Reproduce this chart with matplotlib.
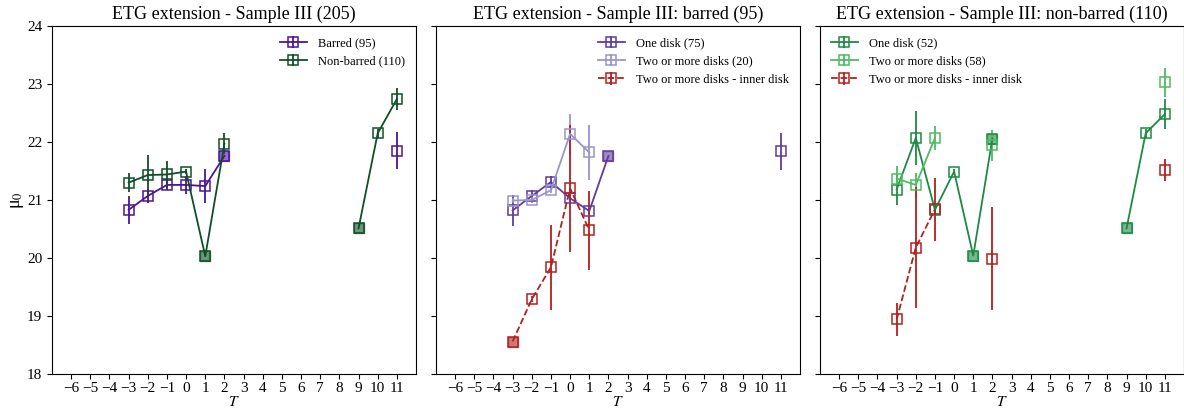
import numpy as np
import matplotlib
matplotlib.use("Agg")
import matplotlib.pyplot as plt

plt.rcParams['font.family'] = ['Liberation Serif', 'DejaVu Serif']
plt.rcParams['mathtext.fontset'] = 'stix'

nan = np.nan
T = np.arange(-3, 12)  # -3 .. 11

# Panel 1: Sample III (205)
barred_mu = [20.83, 21.07, 21.26, 21.26, 21.24, 21.76, nan, nan, nan, nan, nan, nan, nan, nan, 21.85]
barred_err = [0.24, 0.12, 0.08, 0.16, 0.29, 0.0, nan, nan, nan, nan, nan, nan, nan, nan, 0.32]
barred_single = [2]
nonbar_mu = [21.30, 21.43, 21.44, 21.49, 20.03, 21.97, nan, nan, nan, nan, nan, nan, 20.51, 22.15, 22.74]
nonbar_err = [0.17, 0.35, 0.24, 0.05, 0.0, 0.18, nan, nan, nan, nan, nan, nan, 0.0, 0.08, 0.19]
nonbar_single = [1, 9]

# Panel 2: barred (95)
b_one_mu = [20.82, 21.07, 21.31, 21.03, 20.81, 21.76, nan, nan, nan, nan, nan, nan, nan, nan, 21.84]
b_one_err = [0.26, 0.10, 0.10, 0.05, 0.05, 0.0, nan, nan, nan, nan, nan, nan, nan, nan, 0.32]
b_one_single = [2]
b_two_mu = [20.99, 21.00, 21.17, 22.14, 21.82, nan, nan, nan, nan, nan, nan, nan, nan, nan, nan]
b_two_err = [0.05, 0.05, 0.05, 0.35, 0.47, nan, nan, nan, nan, nan, nan, nan, nan, nan, nan]
b_two_single = []
b_inner_mu = [18.56, 19.29, 19.84, 21.20, 20.48, nan, nan, nan, nan, nan, nan, nan, nan, nan, nan]
b_inner_err = [0.0, 0.05, 0.73, 1.10, 0.68, nan, nan, nan, nan, nan, nan, nan, nan, nan, nan]
b_inner_single = [-3]

# Panel 3: non-barred (110)
n_one_mu = [21.18, 22.07, 20.83, 21.49, 20.04, 22.06, nan, nan, nan, nan, nan, nan, 20.51, 22.15, 22.48]
n_one_err = [0.27, 0.47, 0.10, 0.05, 0.0, 0.0, nan, nan, nan, nan, nan, nan, 0.0, 0.08, 0.26]
n_one_single = [1, 2, 9]
n_two_mu = [21.37, 21.26, 22.07, nan, nan, 21.94, nan, nan, nan, nan, nan, nan, nan, nan, 23.03]
n_two_err = [0.22, 0.20, 0.20, nan, nan, 0.27, nan, nan, nan, nan, nan, nan, nan, nan, 0.25]
n_two_single = []
n_inner_mu = [18.94, 20.18, 20.84, nan, nan, 19.99, nan, nan, nan, nan, nan, nan, nan, nan, 21.51]
n_inner_err = [0.28, 1.05, 0.54, nan, nan, 0.89, nan, nan, nan, nan, nan, nan, nan, nan, 0.19]
n_inner_single = []

titles = ['ETG extension - Sample III (205)',
          'ETG extension - Sample III: barred (95)',
          'ETG extension - Sample III: non-barred (110)']

panels = [
    [('Barred (95)', barred_mu, barred_err, barred_single, '#4b1596', '-'),
     ('Non-barred (110)', nonbar_mu, nonbar_err, nonbar_single, '#0f4f27', '-')],
    [('One disk (75)', b_one_mu, b_one_err, b_one_single, '#5e3c9e', '-'),
     ('Two or more disks (20)', b_two_mu, b_two_err, b_two_single, '#9a94cc', '-'),
     ('Two or more disks - inner disk', b_inner_mu, b_inner_err, b_inner_single, '#b2201f', '--')],
    [('One disk (52)', n_one_mu, n_one_err, n_one_single, '#1c8a43', '-'),
     ('Two or more disks (58)', n_two_mu, n_two_err, n_two_single, '#4fbb63', '-'),
     ('Two or more disks - inner disk', n_inner_mu, n_inner_err, n_inner_single, '#b2201f', '--')],
]
legend_locs = ['upper right', 'upper right', 'upper left']

fig = plt.figure(figsize=(11.84, 4.16), dpi=100)
W, H = 1184, 416
lefts = [52, 436, 820]
axw = 364
bottom = 1 - 374 / H
top = 1 - 26 / H
axes = []
for i, l in enumerate(lefts):
    ax = fig.add_axes([l / W, bottom, axw / W, top - bottom], sharey=axes[0] if axes else None)
    axes.append(ax)

for i, ax in enumerate(axes):
    for (lab, mu, err, single, col, ls) in panels[i]:
        mu = np.array(mu, dtype=float)
        err = np.array(err, dtype=float)
        ax.errorbar(T, mu, yerr=err, color=col, ls=ls, lw=1.3, marker='s',
                    ms=7, mfc='none', mec=col, mew=1.1, elinewidth=1.3, capsize=0,
                    label=lab)
        if single:
            idx = [list(T).index(s) for s in single]
            ax.plot(T[idx], mu[idx], ls='none', marker='s', ms=7,
                    mfc=col, mec=col, alpha=0.6)
    ax.set_xlim(-7, 12)
    ax.set_ylim(18, 24)
    ax.set_xticks(np.arange(-6, 12))
    ax.set_yticks(np.arange(18, 25))
    ax.tick_params(labelsize=11)
    ax.tick_params(axis='x', pad=2.5)
    ax.set_xlabel('$T$', fontsize=11, labelpad=0)
    ax.set_title(titles[i], fontsize=13, pad=5)
    ax.legend(loc=legend_locs[i], frameon=False, fontsize=9, handlelength=2.1,
              handletextpad=0.9)
    if i > 0:
        plt.setp(ax.get_yticklabels(), visible=False)

axes[0].set_ylabel('μ$_0$', fontsize=13, labelpad=1)

fig.savefig('out.png', dpi=100)
